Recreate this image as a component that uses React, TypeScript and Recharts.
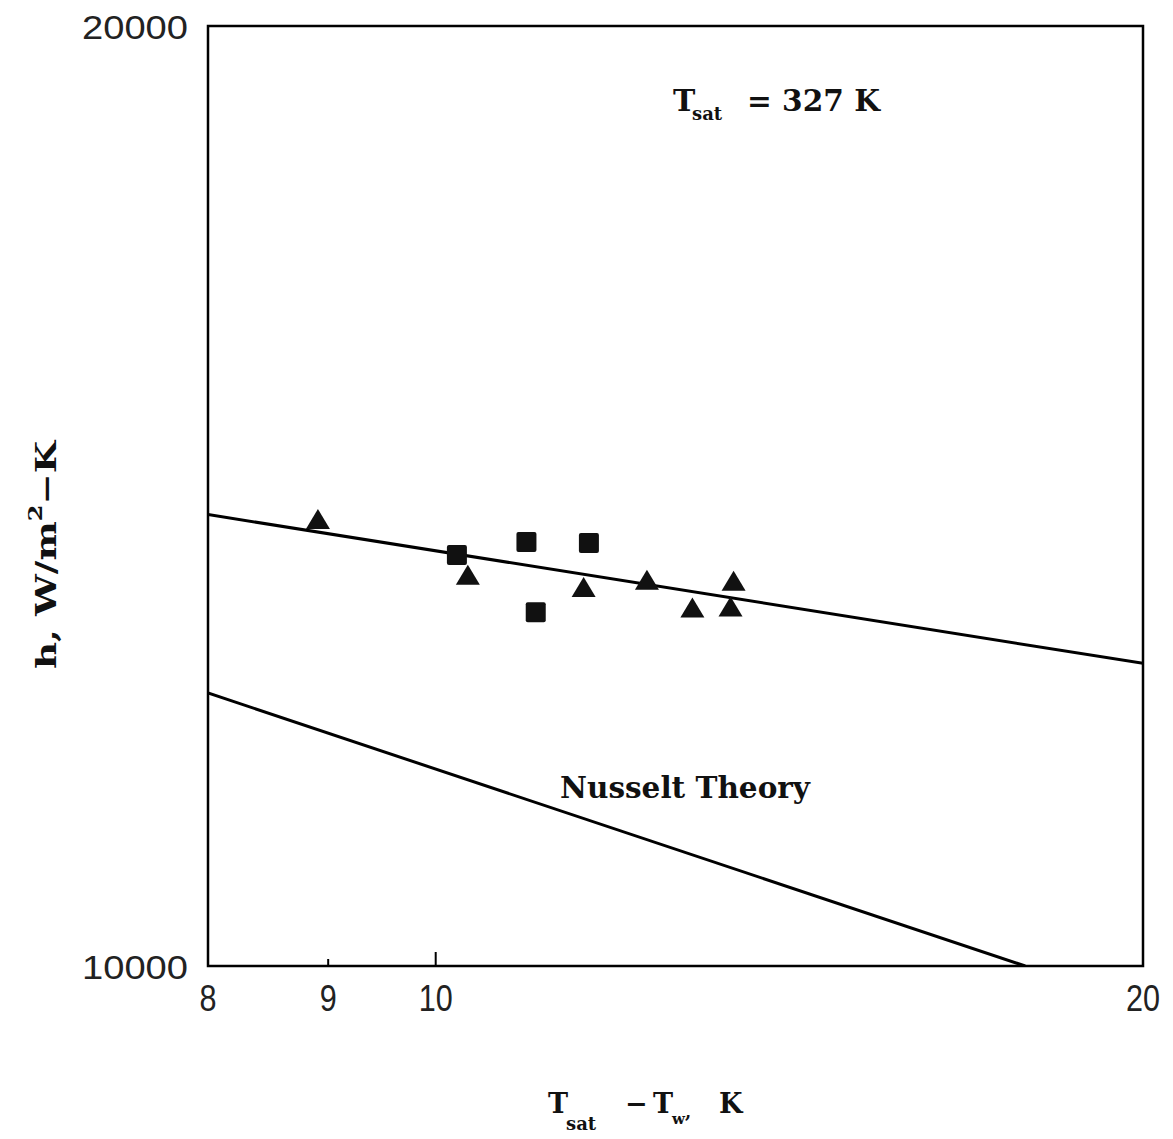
import React from 'react';
import { ScatterChart, Scatter, XAxis, YAxis, ReferenceArea } from 'recharts';

const triangleDt = [8.91, 10.32, 11.56, 12.3, 12.86, 13.35, 13.39];
const triangleH = [13900, 13340, 13220, 13290, 13020, 13030, 13280];
const squareDt = [10.21, 10.93, 11.03, 11.62];
const squareH = [13540, 13670, 12980, 13660];

// correlation line through the data and Nusselt theory
const fitDt = [8, 20];
const fitH = [13950, 12500];
const nusseltDt = [8, 17.82];
const nusseltH = [12230, 10000];

const xTicks = [8, 9, 10, 20];
const yTicks = [10000, 20000];

const W = 1160;
const H = 1125;

const zip = (xs: number[], ys: number[]) => xs.map((x, i) => ({ dt: x, h: ys[i] }));

const serif = '"DejaVu Serif", "Liberation Serif", serif';
const sans = '"Liberation Sans", Arial, sans-serif';

const Triangle = (props: any) => {
  const { cx, cy } = props;
  if (cx == null || cy == null) return <g />;
  return <polygon points={`${cx},${cy - 10.5} ${cx - 12},${cy + 9.5} ${cx + 12},${cy + 9.5}`} fill="#111" />;
};

const Square = (props: any) => {
  const { cx, cy } = props;
  if (cx == null || cy == null) return <g />;
  return <rect x={cx - 10} y={cy - 10} width={20} height={20} rx={2} fill="#111" />;
};

const NoDot = () => <g />;

const XTick = (props: any) => {
  const { x, y, payload } = props;
  const v = payload.value;
  const len = v === 9 ? 7 : v === 10 ? 14 : 0;
  const label = String(v);
  return (
    <g>
      {len > 0 && <line x1={x} x2={x} y1={y} y2={y - len} stroke="#000" strokeWidth={2} />}
      <text
        x={x}
        y={y + 45}
        textAnchor="middle"
        fontFamily={sans}
        fontSize={36}
        fill="#222"
        textLength={label.length * 17}
        lengthAdjust="spacingAndGlyphs"
      >
        {label}
      </text>
    </g>
  );
};

const YTick = (props: any) => {
  const { x, y, payload } = props;
  return (
    <text
      x={x - 20}
      y={y + 13}
      textAnchor="end"
      fontFamily={sans}
      fontSize={34}
      fill="#222"
      textLength={106}
      lengthAdjust="spacingAndGlyphs"
    >
      {String(payload.value)}
    </text>
  );
};

export default function App() {
  return (
    <div style={{ position: 'relative', width: W, height: H, background: '#fff' }}>
      <ScatterChart
        width={W}
        height={H}
        margin={{ top: 18, right: 25, left: 0, bottom: 0 }}
        style={{ overflow: 'visible' }}
      >
        <XAxis
          dataKey="dt"
          type="number"
          scale="log"
          domain={[8, 20]}
          ticks={xTicks}
          allowDataOverflow
          axisLine={false}
          tickLine={false}
          tickSize={0}
          tickMargin={0}
          height={167}
          tick={<XTick />}
          interval={0}
        />
        <YAxis
          dataKey="h"
          type="number"
          scale="log"
          domain={[10000, 20000]}
          ticks={yTicks}
          allowDataOverflow
          axisLine={false}
          tickLine={false}
          tickSize={0}
          tickMargin={0}
          width={200}
          tick={<YTick />}
          interval={0}
        />
        <ReferenceArea x1={8} x2={20} y1={10000} y2={20000} fill="none" stroke="#000" strokeWidth={2.5} />
        <Scatter
          data={zip(fitDt, fitH)}
          line={{ stroke: '#000', strokeWidth: 3 }}
          shape={<NoDot />}
          isAnimationActive={false}
        />
        <Scatter
          data={zip(nusseltDt, nusseltH)}
          line={{ stroke: '#000', strokeWidth: 3 }}
          shape={<NoDot />}
          isAnimationActive={false}
        />
        <Scatter data={zip(triangleDt, triangleH)} shape={<Triangle />} isAnimationActive={false} />
        <Scatter data={zip(squareDt, squareH)} shape={<Square />} isAnimationActive={false} />
      </ScatterChart>

      <svg width={W} height={H} style={{ position: 'absolute', left: 0, top: 0, pointerEvents: 'none' }}>
        <g fontFamily={serif} fontWeight="bold" fill="#111">
          {/* T_sat = 327 K */}
          <text x={665} y={103} fontSize={30}>T</text>
          <text x={684} y={112} fontSize={18}>sat</text>
          <text x={739} y={103} fontSize={30} textLength={133} lengthAdjust="spacingAndGlyphs">
            = 327 K
          </text>

          <text x={552} y={790} fontSize={30} textLength={250} lengthAdjust="spacingAndGlyphs">
            Nusselt Theory
          </text>

          {/* x axis title */}
          <text x={540} y={1105} fontSize={27}>T</text>
          <text x={558} y={1122} fontSize={18}>sat</text>
          <text x={617} y={1105} fontSize={27}>−</text>
          <text x={645} y={1105} fontSize={27}>T</text>
          <text x={664} y={1116} fontSize={15}>w</text>
          <text x={677} y={1110} fontSize={18}>,</text>
          <text x={711} y={1105} fontSize={27}>K</text>

          {/* y axis title */}
          <g transform="translate(48, 547) rotate(-90)">
            <text x={0} y={0} textAnchor="middle" fontSize={28} textLength={228} lengthAdjust="spacingAndGlyphs">
              h, W/m<tspan dy={-14} fontSize={18}>2</tspan>
              <tspan dy={14}>−K</tspan>
            </text>
          </g>
        </g>
      </svg>
    </div>
  );
}
